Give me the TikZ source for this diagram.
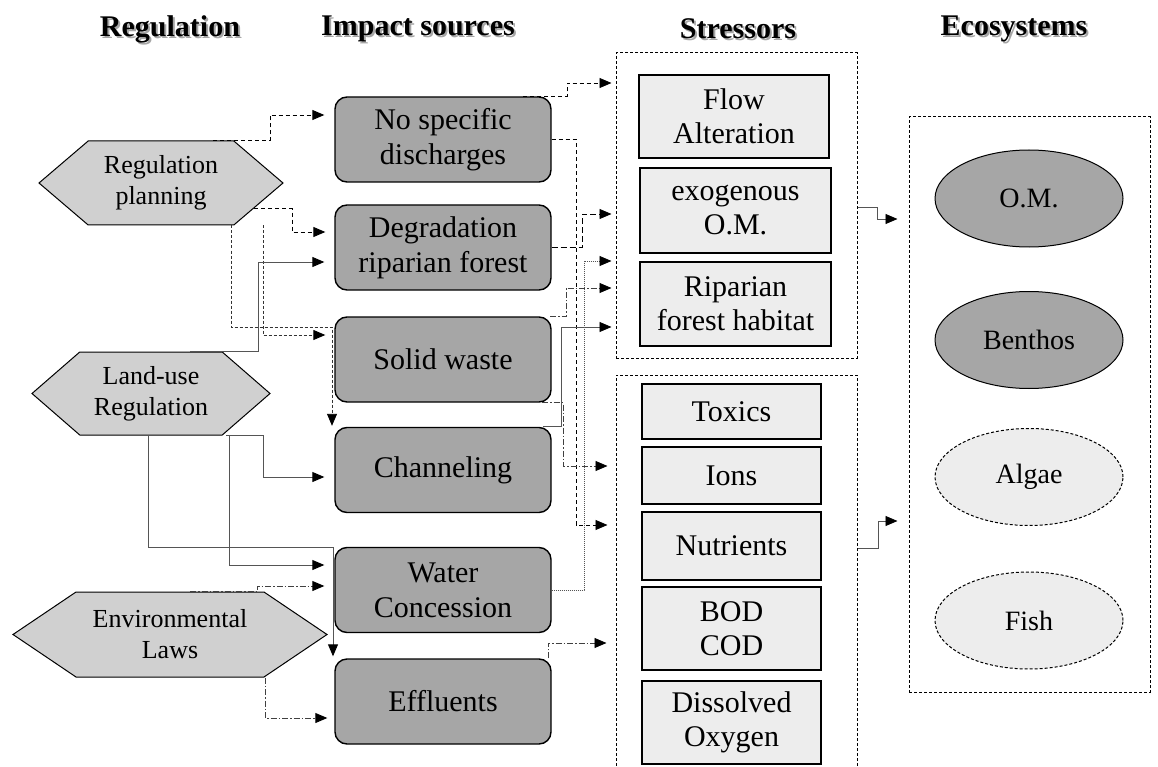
\documentclass[tikz,border=0pt]{standalone}
\usepackage{fontspec}
\setmainfont{Liberation Serif}
\usetikzlibrary{positioning,calc,arrows.meta,shapes.geometric,shapes.symbols}
\definecolor{impactFill}{RGB}{166,166,166}
\definecolor{regFill}{RGB}{208,208,208}
\definecolor{stressFill}{RGB}{237,237,237}
\definecolor{lineGray}{RGB}{85,85,85}
\newcommand{\shadowtext}[1]{\rlap{\hspace{2pt}\raisebox{-2pt}{\color{black!35}#1}}#1}
\tikzset{
    header/.style={font=\fontsize{30}{34}\selectfont\bfseries},
    regnode/.style={
        signal, signal to=west and east,
        draw, line width=1pt,
        fill=regFill,
        inner sep=0pt,
        align=center,
        font=\fontsize{26}{31}\selectfont
    },
    impact/.style={
        rectangle, rounded corners=12pt,
        draw, line width=1.4pt,
        fill=impactFill,
        minimum width=216, minimum height=85,
        align=center,
        font=\fontsize{30}{35}\selectfont
    },
    stressor/.style={
        rectangle,
        draw, line width=1.2pt,
        fill=stressFill,
        inner sep=0pt,
        align=center,
        font=\fontsize{30}{34}\selectfont
    },
    grpbox/.style={rectangle, draw, densely dashed, line width=1pt},
    eco/.style={
        ellipse, draw, line width=1pt,
        minimum width=188, minimum height=97,
        inner sep=0pt,
        font=\fontsize{28}{32}\selectfont
    },
    ptr/.style={-{Triangle[length=12pt,width=10pt,color=black,fill=black]}, line width=0.9pt},
    dsh/.style={ptr, dash pattern=on 4pt off 3pt},
    dshl/.style={ptr, dash pattern=on 6pt off 3pt},
    dshf/.style={ptr, dash pattern=on 3pt off 2pt, black!80},
    dd/.style={ptr, dash pattern=on 6pt off 2pt on 1.5pt off 2pt, black!75},
    dot/.style={ptr, dash pattern=on 1pt off 1pt, lineGray},
    sld/.style={ptr, lineGray}
}

\begin{document}
\begin{tikzpicture}[x=1pt, y=-1pt]
    \useasboundingbox (0,0) rectangle (1158,767);

    \node[header] (hreg) at (170,30) {\shadowtext{Regulation}};
    \node[header] (himp) at (418,30) {\shadowtext{Impact sources}};
    \node[header] (hstr) at (738,30) {\shadowtext{Stressors}};
    \node[header] (heco) at (1014,30) {\shadowtext{Ecosystems}};

    % regulation
    \node[regnode, signal pointer angle=81, minimum width=244, minimum height=84] (rp) at (161,183) {Regulation\\planning};
    \node[regnode, signal pointer angle=82, minimum width=238, minimum height=83] (lu) at (151,393.5) {Land-use\\Regulation};
    \node[regnode, signal pointer angle=68, minimum width=314, minimum height=85] (el) at (170,634.5) {Environmental\\Laws};

    % impact sources
    \node[impact] (nsd) at (443,139.5) {No specific\\discharges};
    \node[impact] (deg) at (443,247.5) {Degradation\\riparian forest};
    \node[impact] (sw) at (443,359.5) {Solid waste};
    \node[impact] (ch) at (443,470) {Channeling};
    \node[impact] (wc) at (443,590) {Water\\Concession};
    \node[impact] (ef) at (443,701.5) {Effluents};

    % stressors
    \node[grpbox, minimum width=241, minimum height=305] (upgrp) at (736.5,205.5) {};
    \node[grpbox, minimum width=241, minimum height=400] (lowgrp) at (736.5,575) {};
    \node[stressor, minimum width=190, minimum height=83] (fa) at (734,116.5) {Flow\\Alteration};
    \node[stressor, minimum width=191, minimum height=85] (exo) at (735.5,210.5) {exogenous\\O.M.};
    \node[stressor, minimum width=191, minimum height=84] (rfh) at (735.5,304) {Riparian\\forest habitat};
    \node[stressor, minimum width=179, minimum height=55] (tox) at (731.5,411.5) {Toxics};
    \node[stressor, minimum width=179, minimum height=57] (ions) at (731.5,475.5) {Ions};
    \node[stressor, minimum width=179, minimum height=68] (nut) at (731.5,546) {Nutrients};
    \node[stressor, minimum width=179, minimum height=83] (bod) at (731.5,628.5) {BOD\\COD};
    \node[stressor, minimum width=179, minimum height=83] (dox) at (731.5,722.5) {Dissolved\\Oxygen};

    % ecosystems
    \node[grpbox, minimum width=241, minimum height=575] (eco) at (1029.5,404.5) {};
    \node[eco, fill=impactFill] (om) at (1029,198.5) {O.M.};
    \node[eco, fill=impactFill] (ben) at (1029,340) {Benthos};
    \node[eco, densely dashed, fill=stressFill] (alg) at (1029,477) {Algae};
    \node[eco, densely dashed, fill=stressFill] (fish) at (1029,620.5) {Fish};

    % regulation -> impact sources
    \draw[dsh, shorten >=10pt] (213,0 |- rp.north) -- (270,0 |- rp.north) |- (nsd.west |- 0,115);
    \draw[dsh, shorten >=9pt] (rp.-15) -- (292,0 |- rp.-15) |- (deg.west |- 0,232);
    \draw[dshf, shorten >=1pt] (231,0 |- rp.south) |- (332,327) -- (332,0 |- ch.north);
    \draw[dshf, shorten >=9pt] (263,0 |- rp.south) |- (sw.west |- 0,335);
    \draw[sld, shorten >=10pt] (190,0 |- lu.north) -- (258,0 |- lu.north) |- (deg.west |- 0,262);
    \draw[sld, shorten >=10pt] (226,0 |- lu.south) -- (263,0 |- lu.south) |- (ch.west |- 0,477);
    \draw[sld, shorten >=10pt] (229,0 |- lu.south) |- (wc.west |- 0,565);
    \draw[sld, shorten >=2pt] (148,0 |- lu.south) |- (333,547) -- (333,0 |- ef.north);
    \draw[dd, shorten >=10pt] (190,0 |- el.north) -- (257,0 |- el.north) -- (257,586) -- (wc.west |- 0,586);
    \draw[dd, shorten >=7pt] (265,0 |- el.south) |- (ef.west |- 0,718);

    % impact sources -> stressors
    \draw[dsh, shorten >=4pt] (523,0 |- nsd.north) -- (567,0 |- nsd.north) |- (upgrp.west |- 0,83);
    \draw[dsh, shorten >=8pt] (nsd.east) -- (576,0 |- nsd.east) |- (lowgrp.west |- 0,525);
    \draw[dshl, shorten >=4pt] (deg.east) -- (582,0 |- deg.east) |- (upgrp.west |- 0,214);
    \draw[dot, shorten >=4pt] (wc.east) -- (584,0 |- wc.east) |- (upgrp.west |- 0,261);
    \draw[dd, shorten >=4pt] (550,0 |- sw.north) -- (566,0 |- sw.north) |- (upgrp.west |- 0,288);
    \draw[sld, shorten >=4pt] (543,0 |- ch.north) -- (561,0 |- ch.north) |- (upgrp.west |- 0,327);
    \draw[dd, shorten >=8pt] (542,0 |- sw.south) -- (563,0 |- sw.south) |- (lowgrp.west |- 0,466);
    \draw[dd, shorten >=9pt] (548,0 |- ef.north) |- (lowgrp.west |- 0,643);

    % stressors -> ecosystems
    \draw[sld, shorten >=11pt] (upgrp.east |- 0,207) -- (877,207) |- (eco.west |- 0,219);
    \draw[sld, shorten >=11pt] (lowgrp.east |- 0,548) -- (878,548) |- (eco.west |- 0,521);
\end{tikzpicture}
\end{document}
